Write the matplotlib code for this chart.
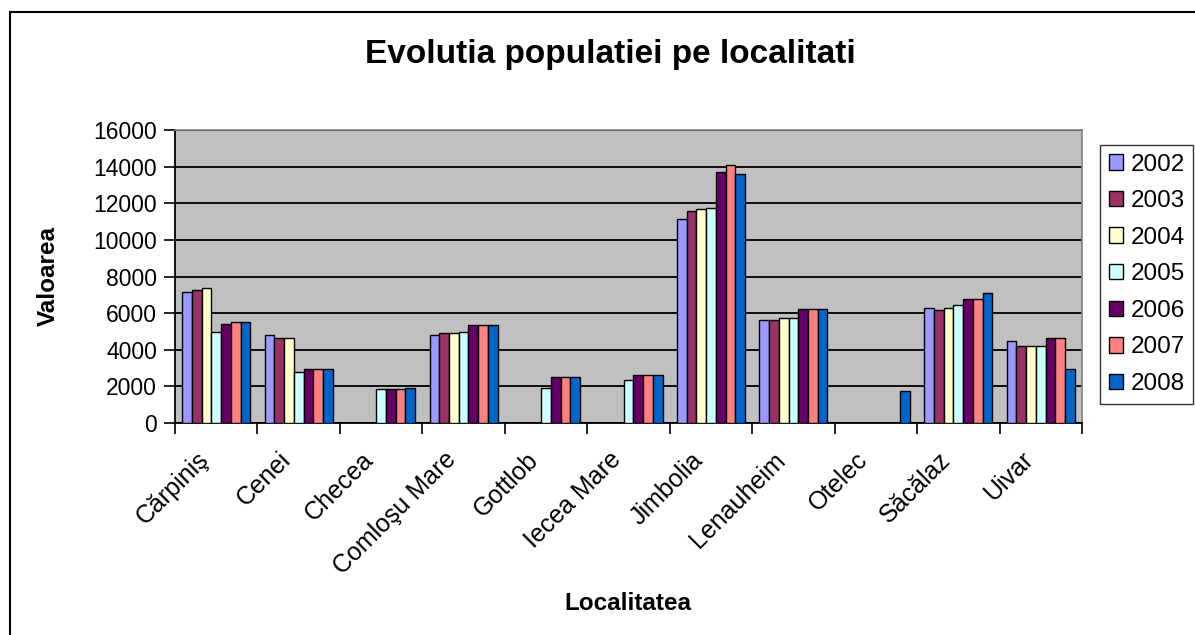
import matplotlib
matplotlib.use("Agg")
import matplotlib.pyplot as plt
import matplotlib.transforms as mtransforms
import numpy as np
from matplotlib.lines import Line2D

plt.rcParams['font.family'] = ['Liberation Sans', 'DejaVu Sans']

categories = ["Cărpiniş", "Cenei", "Checea", "Comloşu Mare", "Gottlob", "Iecea Mare",
              "Jimbolia", "Lenauheim", "Otelec", "Săcălaz", "Uivar"]
years = ["2002", "2003", "2004", "2005", "2006", "2007", "2008"]
v2002 = [7180, 4820, 0, 4820, 0, 0, 11150, 5650, 0, 6260, 4470]
v2003 = [7290, 4640, 0, 4900, 0, 0, 11550, 5650, 0, 6190, 4210]
v2004 = [7370, 4640, 0, 4900, 0, 0, 11660, 5740, 0, 6260, 4210]
v2005 = [4990, 2780, 1840, 4990, 1930, 2370, 11730, 5740, 0, 6440, 4210]
v2006 = [5430, 2950, 1840, 5340, 2520, 2600, 13680, 6230, 0, 6770, 4640]
v2007 = [5500, 2950, 1840, 5340, 2520, 2600, 14100, 6230, 0, 6770, 4640]
v2008 = [5500, 2950, 1910, 5340, 2520, 2600, 13590, 6230, 1750, 7120, 2940]
series = [v2002, v2003, v2004, v2005, v2006, v2007, v2008]
colors = ["#9999FF", "#993366", "#FFFFCC", "#CCFFFF", "#660066", "#FF8080", "#0066CC"]

fig = plt.figure(figsize=(11.95, 6.35), dpi=100)
ax = fig.add_axes([175/1195, 1-423/635, (1082-175)/1195, (423-130)/635])
ax.set_facecolor("#C0C0C0")

x = np.arange(len(categories))
bw = 0.118
n = len(series)
for i, (vals, c, y) in enumerate(zip(series, colors, years)):
    ax.bar(x + (i - (n-1)/2)*bw, vals, width=bw, color=c, edgecolor="black",
           linewidth=1.0, label=y, zorder=3)

ax.set_xlim(-0.5, len(categories)-0.5)
ax.set_ylim(0, 16000)
ax.set_yticks(np.arange(0, 16001, 2000))
ax.yaxis.grid(True, color="black", linewidth=1.3, zorder=1)
ax.set_axisbelow(True)
ax.tick_params(axis='y', direction='out', length=8, width=1.2, labelsize=16.5, pad=5)

ax.set_xticks(x)
ax.set_xticklabels(categories, rotation=45, ha='right', rotation_mode='anchor', fontsize=18)
ax.tick_params(axis='x', which='major', length=0, pad=12)
ax.set_xticks(np.arange(-0.5, len(categories), 1.0), minor=True)
ax.tick_params(axis='x', which='minor', direction='out', length=8, width=1.2)
offset = mtransforms.ScaledTranslation(-20/100, -8/100, fig.dpi_scale_trans)
for lbl in ax.get_xticklabels():
    lbl.set_transform(lbl.get_transform() + offset)

for s in ['top', 'right']:
    ax.spines[s].set_color("#808080")
    ax.spines[s].set_linewidth(1.2)
for s in ['left', 'bottom']:
    ax.spines[s].set_color("black")
    ax.spines[s].set_linewidth(1.3)

ax.set_ylabel("Valoarea", fontsize=17.5, fontweight='bold')
ax.yaxis.set_label_coords((48-175)/(1082-175), 0.5)
ax.set_xlabel("Localitatea", fontsize=17.5, fontweight='bold')
ax.xaxis.set_label_coords((628-175)/(1082-175), -(603-423)/(423-130))
ax.xaxis.label.set_va('center')
ax.yaxis.label.set_va('center')

fig.text(610/1195, 1-55/635, "Evolutia populatiei pe localitati", fontsize=24,
         fontweight='bold', ha='center', va='center')

leg = fig.legend(loc='upper left', bbox_to_anchor=(1100/1195, 1-145/635),
                 fontsize=17.5, frameon=True, fancybox=False, edgecolor='black',
                 handlelength=0.6, handleheight=0.6, handletextpad=0.3,
                 labelspacing=0.6, borderpad=0.35, borderaxespad=0)
leg.get_frame().set_linewidth(1.0)

# outer chart border (top and left visible)
fig.add_artist(Line2D([10/1195, 10/1195], [0, 1-12/635], transform=fig.transFigure,
                      color='black', linewidth=1.5))
fig.add_artist(Line2D([10/1195, 1], [1-12/635, 1-12/635], transform=fig.transFigure,
                      color='black', linewidth=1.5))

fig.savefig("out.png", dpi=100)
